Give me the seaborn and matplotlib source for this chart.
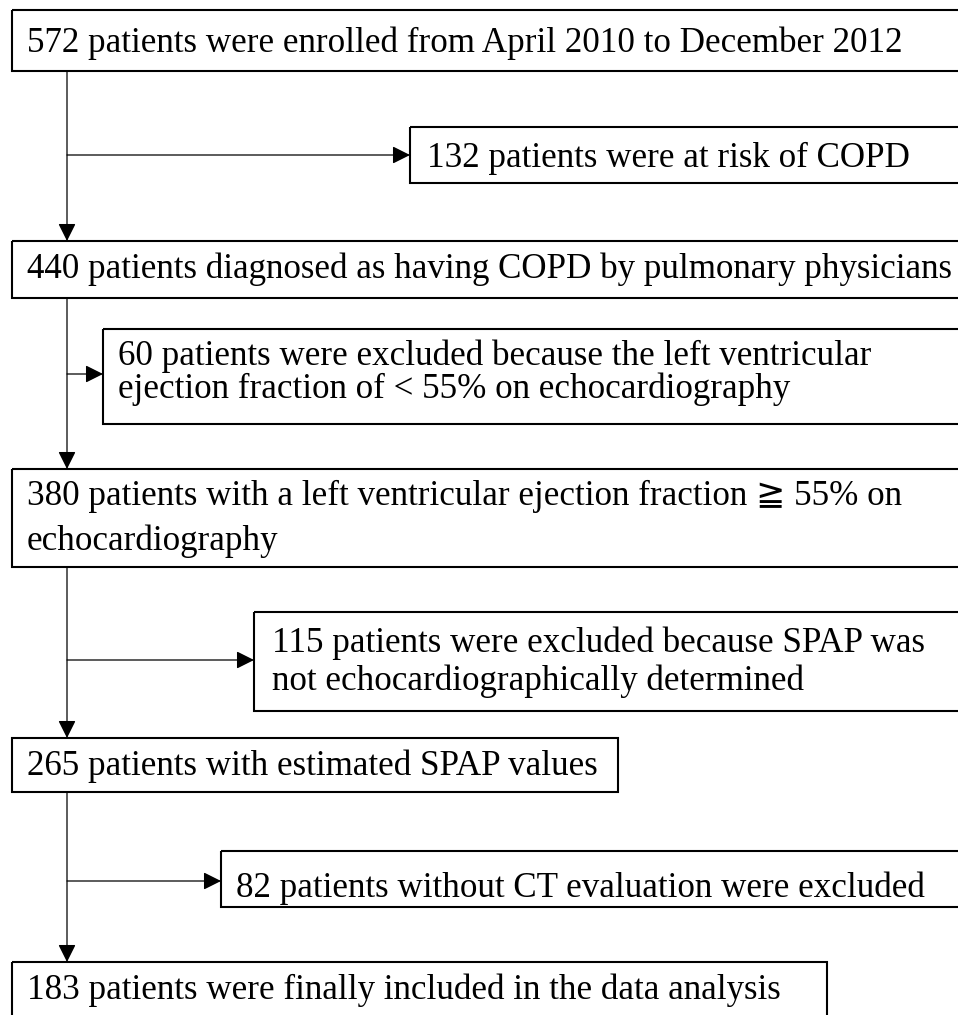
import matplotlib
matplotlib.use('Agg')
import matplotlib.pyplot as plt
import seaborn as sns
from matplotlib.patches import Rectangle

sns.set_theme(style='white')
plt.rcParams['font.family'] = ['Liberation Serif', 'DejaVu Serif', 'DejaVu Sans']

# patient counts at every step of the flow
counts = [572, 132, 440, 60, 380, 115, 265, 82, 183]
# text after the count, one entry per line
descriptions = [
    ['patients were enrolled from April 2010 to December 2012'],
    ['patients were at risk of COPD'],
    ['patients diagnosed as having COPD by pulmonary physicians'],
    ['patients were excluded because the left ventricular',
     'ejection fraction of < 55% on echocardiography'],
    ['patients with a left ventricular ejection fraction \u2267 55% on',
     'echocardiography'],
    ['patients were excluded because SPAP was',
     'not echocardiographically determined'],
    ['patients with estimated SPAP values'],
    ['patients without CT evaluation were excluded'],
    ['patients were finally included in the data analysis'],
]
# main path (True) or excluded branch (False)
main_step = [True, False, True, False, True, False, True, False, True]

# layout in pixels: box (left, top, right, bottom), text x, text baselines
box_pos = [
    (12, 10, 970, 71),
    (410, 127, 970, 183),
    (12, 241, 970, 298),
    (103, 329, 970, 424),
    (12, 469, 970, 567),
    (254, 612, 970, 711),
    (12, 738, 618, 792),
    (221, 851, 970, 907),
    (12, 962, 827, 1040),
]
text_x = [27, 427, 27, 118, 27, 272, 27, 236, 27]
baselines = [[52], [167], [278], [365, 398], [505, 550], [652, 690], [775], [897], [999]]
branch_y = {1: 155, 3: 374, 5: 660, 7: 881}
trunk_x = 67

fig = plt.figure(figsize=(9.58, 10.15), dpi=100)
ax = fig.add_axes([0, 0, 1, 1])
ax.set_xlim(0, 958)
ax.set_ylim(1015, 0)
ax.axis('off')

for i, (x0, y0, x1, y1) in enumerate(box_pos):
    ax.add_patch(Rectangle((x0, y0), x1 - x0, y1 - y0, fill=False,
                           edgecolor='black', linewidth=1.5, clip_on=True))
    lines = descriptions[i].copy()
    lines[0] = f'{counts[i]} {lines[0]}'
    for line, yb in zip(lines, baselines[i]):
        ax.text(text_x[i], yb, line, fontsize=25.2, va='baseline', ha='left', color='black')

arrow_kw = dict(arrowstyle='-|>,head_length=0.6,head_width=0.3', color='black', lw=0.9,
                shrinkA=0, shrinkB=0, mutation_scale=18)

# trunk arrows between consecutive main boxes
main_idx = [i for i, m in enumerate(main_step) if m]
for a, b in zip(main_idx[:-1], main_idx[1:]):
    ax.annotate('', xy=(trunk_x, box_pos[b][1]), xytext=(trunk_x, box_pos[a][3]),
                arrowprops=arrow_kw)

# side arrows to excluded boxes
for i, y in branch_y.items():
    ax.annotate('', xy=(box_pos[i][0], y), xytext=(trunk_x, y), arrowprops=arrow_kw)

plt.savefig('out.png', dpi=100)
